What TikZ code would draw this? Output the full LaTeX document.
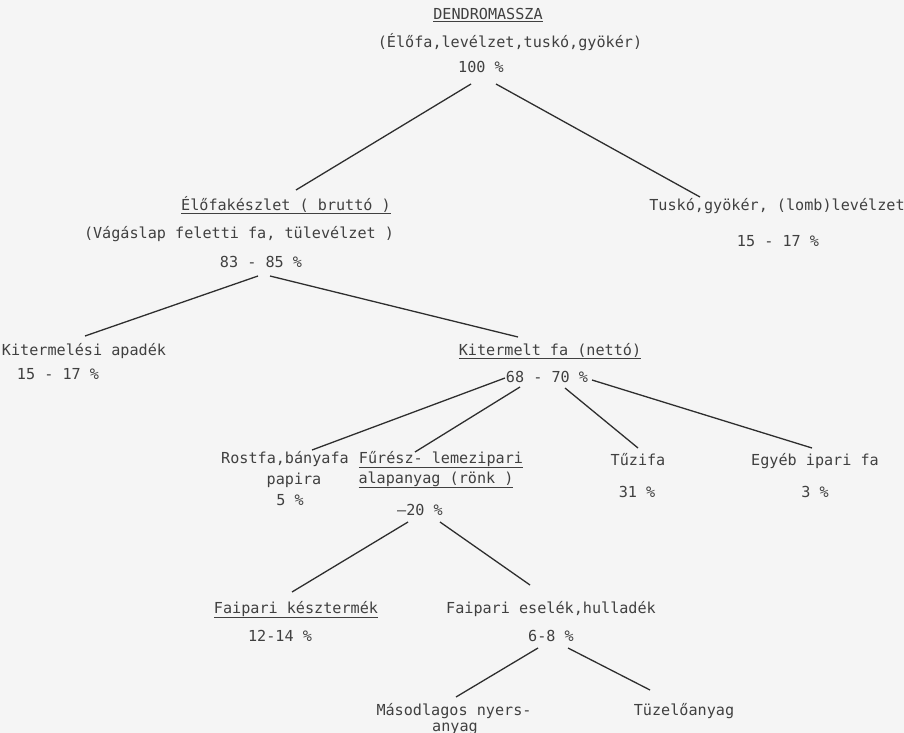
\documentclass[tikz,border=0pt]{standalone}
\usepackage{fontspec}
\setmainfont{DejaVu Sans Mono}
\usetikzlibrary{calc}

\tikzset{
txt/.style={font=\fontsize{15.2}{18}\selectfont, text=black!75, inner sep=0pt, anchor=base},
link/.style={draw=black!82, line width=1.3pt}
}

\begin{document}
\begin{tikzpicture}[x=1bp,y=-1bp]

\fill[black!4] (0,0) rectangle (904,733);
\useasboundingbox (0,0) rectangle (904,733);

\node[txt] (dendro) at (488,20) {\underline{DENDROMASSZA}};
\node[txt] (osszes) at (510,48) {(Élőfa,levélzet,tuskó,gyökér)};
\node[txt] (p100) at (481,73) {100 \%};

\node[txt] (elofa) at (286,210) {\underline{Élőfakészlet ( bruttó )}};
\node[txt] (vagas) at (239,238) {(Vágáslap feletti fa, tülevélzet )};
\node[txt] (p8385) at (261,267) {83 - 85 \%};

\node[txt] (tusko) at (777,210) {Tuskó,gyökér, (lomb)levélzet};
\node[txt] (ptusko) at (778,246) {15 - 17 \%};

\node[txt] (apadek) at (84,355) {Kitermelési apadék};
\node[txt] (papadek) at (58,379) {15 - 17 \%};

\node[txt] (netto) at (550,355) {\underline{Kitermelt fa (nettó)}};
\node[txt] (p6870) at (547,382) {68 - 70 \%};

\node[txt] (rostfa) at (285,463) {Rostfa,bányafa};
\node[txt] (papira) at (294,484) {papira};
\node[txt] (p5) at (290,505) {5 \%};

\node[txt] (furesz) at (441,463) {\underline{Fűrész- lemezipari}};
\node[txt] (ronk) at (436,483) {\underline{alapanyag (rönk )}};
\node[txt] (p20) at (420,515) {—20 \%};

\node[txt] (tuzifa) at (638,465) {Tűzifa};
\node[txt] (p31) at (637,497) {31 \%};

\node[txt] (egyeb) at (815,465) {Egyéb ipari fa};
\node[txt] (p3) at (815,497) {3 \%};

\node[txt] (keszt) at (296,613) {\underline{Faipari késztermék}};
\node[txt] (p1214) at (280,641) {12-14 \%};

\node[txt] (hull) at (551,613) {Faipari eselék,hulladék};
\node[txt] (p68) at (551,641) {6-8 \%};

\node[txt] (masod) at (454,715) {Másodlagos nyers-};
\node[txt] (anyag) at (455,731) {anyag};
\node[txt] (tuzelo) at (684,715) {Tüzelőanyag};

\draw[link] ($(p100.base)+(-10,11)$) -- ($(elofa.base)+(10,-20)$);
\draw[link] ($(p100.base)+(15,11)$) -- ($(tusko.base)+(-77,-13)$);
\draw[link] ($(p8385.base)+(-3,9)$) -- ($(apadek.base)+(1,-19)$);
\draw[link] ($(p8385.base)+(9,9)$) -- ($(netto.base)+(-32,-18)$);
\draw[link] ($(p6870.base)+(-42,-4)$) -- ($(rostfa.base)+(27,-13)$);
\draw[link] ($(p6870.base)+(-27,5)$) -- ($(furesz.base)+(-26,-11)$);
\draw[link] ($(p6870.base)+(18,6)$) -- ($(tuzifa.base)+(0,-17)$);
\draw[link] ($(p6870.base)+(45,-2)$) -- ($(egyeb.base)+(-3,-17)$);
\draw[link] ($(p20.base)+(-12,7)$) -- ($(keszt.base)+(-4,-21)$);
\draw[link] ($(p20.base)+(20,7)$) -- ($(hull.base)+(-21,-28)$);
\draw[link] ($(p68.base)+(-13,7)$) -- ($(masod.base)+(2,-18)$);
\draw[link] ($(p68.base)+(17,7)$) -- ($(tuzelo.base)+(-34,-25)$);

\end{tikzpicture}
\end{document}
